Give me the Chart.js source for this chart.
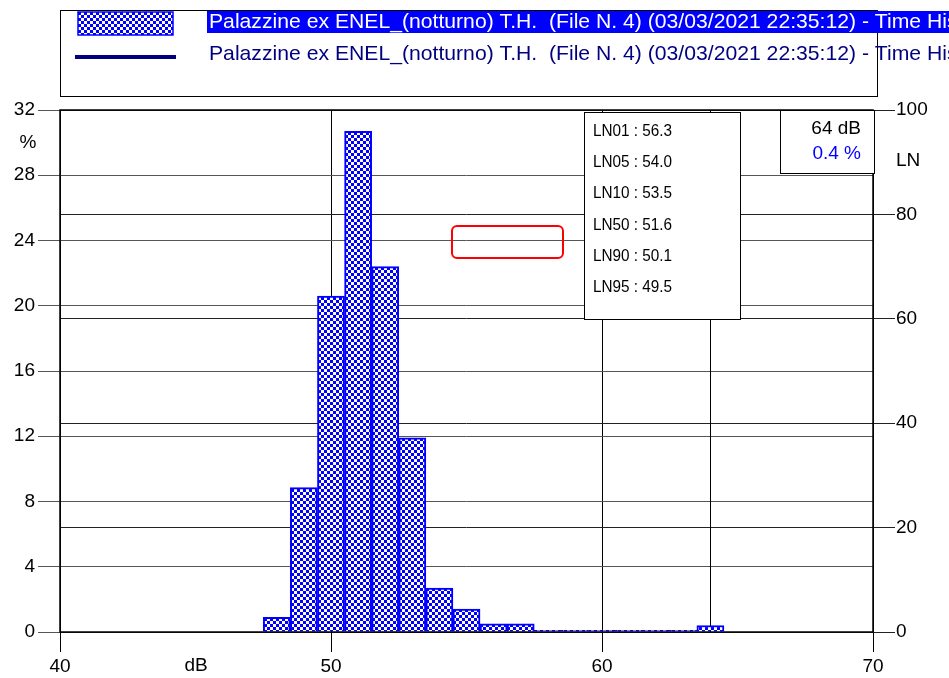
<!DOCTYPE html>
<html>
<head>
<meta charset="utf-8">
<script src="https://cdn.jsdelivr.net/npm/chart.js@4.4.1/dist/chart.umd.min.js"></script>
<style>
  html, body { margin: 0; padding: 0; background: #fff; overflow: hidden; }
  #wrap { width: 949px; height: 678px; }
</style>
</head>
<body>
<div id="wrap"><canvas id="chart"></canvas></div>
<script>
// level bins (dB) and share of time (%)
const levels   = [48, 49, 50, 51, 52, 53, 54, 55, 56, 57, 58, 59, 60, 61, 62, 63, 64];
const percents = [0.9, 8.85, 20.6, 30.7, 22.4, 11.9, 2.7, 1.4, 0.5, 0.5, 0.1, 0.1, 0.1, 0.1, 0.1, 0.1, 0.4];

const xTicks = [40, 50, 60, 70];
const leftTicks = [0, 4, 8, 12, 16, 20, 24, 28, 32];
const rightTicks = [0, 20, 40, 60, 80, 100];

const lnNames  = ['LN01', 'LN05', 'LN10', 'LN50', 'LN90', 'LN95'];
const lnValues = ['56.3', '54.0', '53.5', '51.6', '50.1', '49.5'];

const cursorLevel = 64;
const cursorPercent = '0.4 %';
const seriesName = 'Palazzine ex ENEL_(notturno) T.H.  (File N. 4) (03/03/2021 22:35:12) - Time History';

const FONT = '"Liberation Sans", Arial, sans-serif';

// blue / white checker fill like the original
function makeChecker() {
    const c = document.createElement('canvas');
    c.width = 6; c.height = 6;
    const g = c.getContext('2d');
    g.fillStyle = '#ffffff';
    g.fillRect(0, 0, 6, 6);
    g.fillStyle = '#0000ff';
    g.fillRect(0, 0, 3, 3);
    g.fillRect(3, 3, 3, 3);
    return g.createPattern(c, 'repeat');
}
const checker = makeChecker();

const decorations = {
    id: 'decorations',
    beforeDatasetsDraw(chart) {
        const ctx = chart.ctx;
        const x = chart.scales.x;
        const a = chart.chartArea;
        // cursor line
        const cx = Math.round(x.getPixelForValue(cursorLevel)) + 0.5;
        ctx.save();
        ctx.strokeStyle = '#000';
        ctx.lineWidth = 1;
        ctx.beginPath();
        ctx.moveTo(cx, a.top);
        ctx.lineTo(cx, a.bottom);
        ctx.stroke();
        ctx.restore();
    },
    afterDraw(chart) {
        const ctx = chart.ctx;
        const a = chart.chartArea;
        ctx.save();

        // plot frame
        ctx.strokeStyle = '#000';
        ctx.lineWidth = 1.5;
        ctx.strokeRect(a.left, a.top, a.right - a.left, a.bottom - a.top);

        // axis captions
        ctx.fillStyle = '#000';
        ctx.font = '19px ' + FONT;
        ctx.textBaseline = 'middle';
        ctx.textAlign = 'center';
        ctx.fillText('%', 28, 143);
        ctx.fillText('dB', 196, 666);
        ctx.textAlign = 'left';
        ctx.fillText('LN', 896, 161);

        // legend box
        ctx.lineWidth = 1;
        ctx.strokeStyle = '#000';
        ctx.strokeRect(60.5, 10.5, 817, 86);
        ctx.fillStyle = '#0000ff';
        ctx.fillRect(207, 11, 742, 22);
        ctx.fillStyle = checker;
        ctx.fillRect(78, 12, 95, 23);
        ctx.strokeStyle = '#0000ff';
        ctx.lineWidth = 1.5;
        ctx.strokeRect(78, 12, 95, 23);
        ctx.strokeStyle = '#000080';
        ctx.lineWidth = 4;
        ctx.beginPath();
        ctx.moveTo(75, 57);
        ctx.lineTo(176, 57);
        ctx.stroke();

        ctx.font = '21px ' + FONT;
        const prefix = seriesName.slice(0, seriesName.indexOf('Time ') + 5);
        const sx = 718 / ctx.measureText(prefix).width;
        ctx.textAlign = 'left';
        [[22, '#ffffff'], [54, '#000080']].forEach(([y, col]) => {
            ctx.save();
            ctx.translate(209, y);
            ctx.scale(sx, 1);
            ctx.fillStyle = col;
            ctx.fillText(seriesName, 0, 0);
            ctx.restore();
        });

        // red marker box
        ctx.strokeStyle = '#ff0000';
        ctx.lineWidth = 2;
        ctx.beginPath();
        ctx.roundRect(452, 226, 111, 32, 5);
        ctx.stroke();

        // statistics box
        ctx.fillStyle = '#fff';
        ctx.fillRect(584, 112, 156, 207);
        ctx.strokeStyle = '#000';
        ctx.lineWidth = 1;
        ctx.strokeRect(584.5, 112.5, 156, 207);
        ctx.fillStyle = '#000';
        ctx.font = '17px ' + FONT;
        lnNames.forEach((n, i) => {
            const y = 131 + i * 31.3;
            ctx.save();
            ctx.translate(593, y);
            ctx.scale(0.9, 1);
            ctx.fillText(n + ' : ' + lnValues[i], 0, 0);
            ctx.restore();
        });

        // cursor value box
        ctx.fillStyle = '#fff';
        ctx.fillRect(780, 110, 94, 63);
        ctx.strokeRect(780.5, 110.5, 94, 63);
        ctx.font = '19px ' + FONT;
        ctx.textAlign = 'right';
        ctx.fillStyle = '#000';
        ctx.fillText(cursorLevel + ' dB', 861, 129);
        ctx.fillStyle = '#0000ff';
        ctx.fillText(cursorPercent, 861, 154);

        ctx.restore();
    }
};

new Chart(document.getElementById('chart'), {
    type: 'bar',
    data: {
        datasets: [{
            label: seriesName,
            data: levels.map((l, i) => ({ x: l, y: percents[i] })),
            backgroundColor: checker,
            borderColor: '#0000ff',
            borderWidth: 2,
            barPercentage: 1,
            categoryPercentage: 1
        }]
    },
    options: {
        responsive: true,
        maintainAspectRatio: false,
        animation: false,
        layout: { padding: { top: 110, left: 0, right: 0, bottom: 0 } },
        plugins: { legend: { display: false }, tooltip: { enabled: false } },
        scales: {
            x: {
                type: 'linear',
                min: 40, max: 70,
                offset: false,
                afterBuildTicks: s => { s.ticks = xTicks.map(v => ({ value: v })); },
                ticks: { color: '#000', font: { size: 19, family: FONT }, padding: 3, maxRotation: 0 },
                grid: { color: '#000', lineWidth: 1, tickLength: 20, offset: false },
                border: { display: false },
                afterFit: s => { s.height = 46; }
            },
            y: {
                position: 'left',
                min: 0, max: 32,
                afterBuildTicks: s => { s.ticks = leftTicks.map(v => ({ value: v })); },
                ticks: { color: '#000', font: { size: 19, family: FONT }, padding: 3 },
                grid: { color: '#555', lineWidth: 1, tickLength: 22 },
                border: { display: false },
                afterFit: s => { s.width = 60; }
            },
            y2: {
                position: 'right',
                min: 0, max: 100,
                afterBuildTicks: s => { s.ticks = rightTicks.map(v => ({ value: v })); },
                ticks: { color: '#000', font: { size: 19, family: FONT }, padding: 1 },
                grid: { color: '#222', lineWidth: 1, tickLength: 22 },
                border: { display: false },
                afterFit: s => { s.width = 76; }
            }
        }
    },
    plugins: [decorations]
});
</script>
</body>
</html>
